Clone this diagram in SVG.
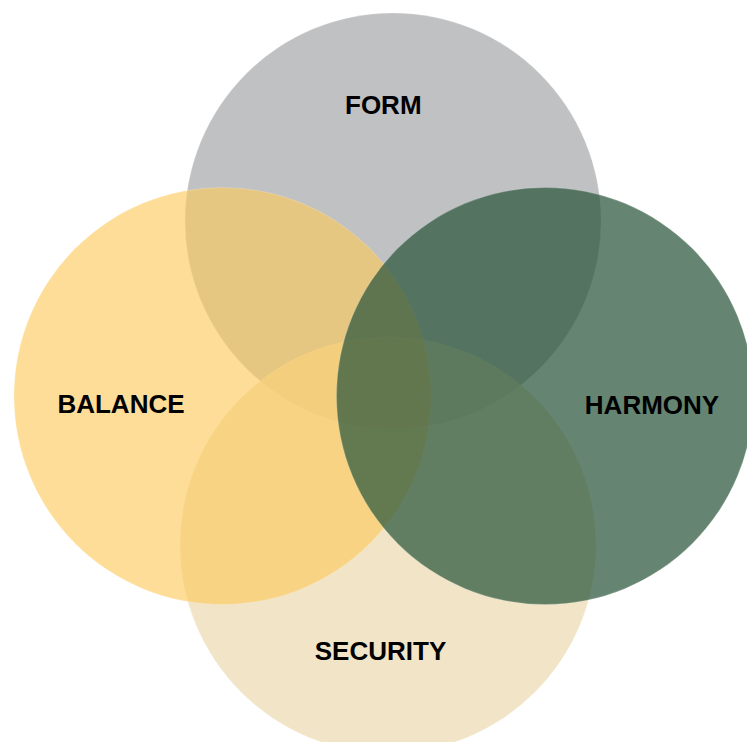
<svg xmlns="http://www.w3.org/2000/svg" width="747" height="742" viewBox="0 0 747 742">
<style>
.c{stroke:#ffffff;stroke-opacity:0.3;stroke-width:0.6}
.t{font-family:"Liberation Sans",Arial,sans-serif;font-weight:bold;font-size:26px;fill:#000;text-anchor:middle}
</style>
<rect width="747" height="742" fill="#ffffff"/>
<g id="form"><circle class="c" cx="393" cy="221" r="208" fill="#c0c1c3"/></g>
<g id="security"><circle class="c" cx="388" cy="545" r="208" fill="rgb(236,219,180)" fill-opacity="0.75"/></g>
<g id="balance"><circle class="c" cx="222.5" cy="396" r="208.5" fill="#fcca5c" fill-opacity="0.64"/></g>
<g id="harmony"><circle class="c" cx="545" cy="396" r="208.5" fill="rgb(42,86,59)" fill-opacity="0.72"/></g>
<g id="connectors"></g>
<g id="labels">
<text class="t" x="383.3" y="114.3">FORM</text>
<text class="t" x="121" y="413.3">BALANCE</text>
<text class="t" x="652" y="414">HARMONY</text>
<text class="t" x="380.5" y="660.3">SECURITY</text>
</g>
</svg>
